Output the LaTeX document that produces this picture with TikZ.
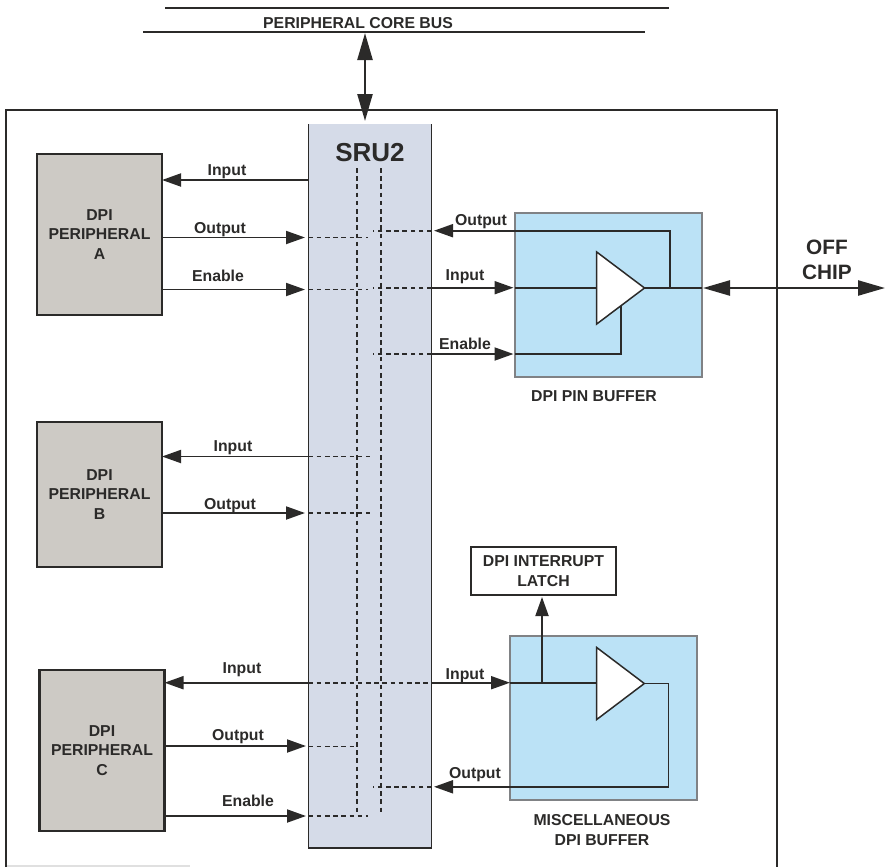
\documentclass[tikz,border=0pt]{standalone}
\usepackage{fontspec}
\setmainfont{Liberation Sans}
\usetikzlibrary{arrows.meta,calc}
\definecolor{ink}{HTML}{2B2A29}
\definecolor{srufill}{HTML}{D5DBE8}
\definecolor{perifill}{HTML}{CDCAC5}
\definecolor{buffill}{HTML}{BBE2F6}
\definecolor{bufedge}{HTML}{808285}
\tikzset{
  every node/.style={inner sep=0pt,outer sep=0pt,text=ink,align=center,font=\fontsize{15.8}{19.5}\selectfont\bfseries},
  peri/.style={draw=ink,line width=2.4pt,fill=perifill,minimum width=125pt,text depth=0pt},
  bufbox/.style={draw=bufedge,line width=2pt,fill=buffill},
  wire/.style={draw=ink,line width=1.9pt},
  dashwire/.style={draw=ink,line width=1.8pt,dash pattern=on 4.6pt off 3.6pt},
  sig/.style={wire,-{Triangle[length=19pt,width=13pt]}},
  bigsig/.style={wire,line width=2.4pt,{Triangle[length=27pt,width=15pt]}-{Triangle[length=27pt,width=15pt]}},
  amp/.style={draw=ink,line width=1.5pt,fill=white,line join=miter},
}
\begin{document}
\begin{tikzpicture}[x=1pt,y=-1pt]
\useasboundingbox (0,0) rectangle (885,867);
% chip outline
\coordinate (chipBL) at (6,867);
\coordinate (chipTL) at (6,110);
\coordinate (chipTR) at (777,110);
\coordinate (chipBR) at (777,867);
\draw[draw=black!12,line width=1.2pt] (chipBL |- 0,866) -- (190,866);
\draw[wire,line width=2.4pt] (chipBL) -- (chipTL) -- (chipTR) -- (chipBR);
% bus
\coordinate (busA1) at (165,8); \coordinate (busA2) at (669,8);
\coordinate (busB1) at (143,32); \coordinate (busB2) at (645,32);
\draw[wire] (busA1) -- (busA2);
\draw[wire] (busB1) -- (busB2);
\node (buslabel) at (358,23) {PERIPHERAL CORE BUS};
% SRU2
\node[fill=srufill,minimum width=123pt,minimum height=724pt] (sru) at (370,486) {};
\draw[wire] (sru.north west) -- (sru.south west) -- (sru.south east) -- (sru.north east);
\node[font=\fontsize{26}{30}\selectfont\bfseries] (srulabel) at (370,153) {SRU2};
\coordinate (busend) at (365,33); \coordinate (sruend) at (365,121);
\draw[bigsig] (busend) -- (sruend);
% peripherals
\node[peri,minimum height=161pt] (A) at (99.5,234.5) {DPI\\PERIPHERAL\\A};
\node[peri,minimum height=145pt] (B) at (99.5,494.5) {DPI\\PERIPHERAL\\B};
\node[peri,minimum height=161pt] (C) at (102,750.5) {DPI\\PERIPHERAL\\C};
% buffers
\node[bufbox,minimum width=187pt,minimum height=164pt] (pin) at (608.5,294.5) {};
\node[bufbox,minimum width=187pt,minimum height=164pt] (misc) at (603,718) {};
\node[draw=ink,line width=1.9pt,fill=white,minimum width=145pt,minimum height=48pt] (latch) at (543.5,571) {DPI INTERRUPT\\LATCH};
\node (pinlabel) at (594,396) {DPI PIN BUFFER};
\node (misclabel) at (602,830) {MISCELLANEOUS\\DPI BUFFER};
\node (offchip) at (827,260) [font=\fontsize{20.8}{24.4}\selectfont\bfseries] {OFF\\CHIP};
% vertical crossbar lines
\draw[dashwire] (356.7,168) coordinate (v1t) -- (356.7,813) coordinate (v1b);
\draw[dashwire] (381.3,168) coordinate (v2t) -- (381.3,813) coordinate (v2b);
% peripheral A
\draw[sig] (sru.west |- 0,180) -- (A.east |- 0,180);
\draw[sig] (A.east |- 0,237.5) -- (305,237.5);
\draw[sig] (A.east |- 0,289.5) -- (305,289.5);
\draw[dashwire] (sru.west |- 0,237.5) -- (368,237.5);
\draw[dashwire] (sru.west |- 0,289.5) -- (368,289.5);
% pin buffer
\coordinate (t1a) at (596.7,252); \coordinate (t1b) at (596.7,324); \coordinate (t1c) at (644.5,288);
\draw[wire] (pin.west |- 0,287.7) -- (t1a |- 0,287.7);
\draw[wire] (pin.west |- 0,354) -- (620.8,354) -- (620.8,300);
\draw[wire] (t1c) -- (670,288) -- (670,230.7) -- (pin.west |- 0,230.7);
\draw[amp] (t1a) -- (t1b) -- (t1c) -- cycle;
\draw[sig] (pin.west |- 0,230.7) -- (434,230.7);
\draw[sig] (sru.east |- 0,287.7) -- (513.5,287.7);
\draw[sig] (sru.east |- 0,354) -- (513.5,354);
\draw[dashwire] (sru.east |- 0,230.7) -- (373,230.7);
\draw[dashwire] (sru.east |- 0,287.7) -- (373,287.7);
\draw[dashwire] (sru.east |- 0,354) -- (373,354);
\coordinate (offend) at (885,288);
\draw[wire,line width=2.4pt] (t1c) -- (pin.east |- t1c);
\draw[bigsig] (703,288) -- (offend);
% peripheral B
\draw[sig] (sru.west |- 0,456.5) -- (B.east |- 0,456.5);
\draw[sig] (B.east |- 0,513) -- (305,513);
\draw[dashwire] (sru.west |- 0,456.5) -- (370,456.5);
\draw[dashwire] (sru.west |- 0,513) -- (370,513);
% peripheral C and misc buffer
\coordinate (t2a) at (596.7,647.5); \coordinate (t2b) at (596.7,719.5); \coordinate (t2c) at (644.3,683.5);
\draw[wire] (misc.west |- 0,682.7) -- (t2a |- 0,682.7);
\draw[wire] (t2c) -- (668.5,683.5) -- (668.5,786.8) -- (misc.west |- 0,786.8);
\draw[amp] (t2a) -- (t2b) -- (t2c) -- cycle;
\draw[wire,-{Triangle[length=19pt,width=13pt]}] (542,682.7) -- (542,597);
\draw[sig] (sru.west |- 0,682.7) -- (C.east |- 0,682.7);
\draw[sig] (sru.east |- 0,682.7) -- (510,682.7);
\draw[dashwire] (sru.west |- 0,682.7) -- (sru.east |- 0,682.7);
\draw[sig] (C.east |- 0,746) -- (306,746);
\draw[dashwire] (sru.west |- 0,746.5) -- (357,746.5);
\draw[sig] (C.east |- 0,816) -- (306,816);
\draw[dashwire] (sru.west |- 0,816) -- (368,816);
\draw[sig] (misc.west |- 0,786.8) -- (434,786.8);
\draw[dashwire] (sru.east |- 0,786.8) -- (373,786.8);
% signal labels
\node (l1) at (227,172) {Input};
\node (l2) at (220,230) {Output};
\node (l3) at (218,276) {Enable};
\node (l4) at (481,222) {Output};
\node (l5) at (465,277) {Input};
\node (l6) at (465,344) {Enable};
\node (l7) at (233,448) {Input};
\node (l8) at (230,506) {Output};
\node (l9) at (242,670) {Input};
\node (l10) at (465,676) {Input};
\node (l11) at (238,737) {Output};
\node (l12) at (475,775) {Output};
\node (l13) at (248,801) {Enable};
\end{tikzpicture}
\end{document}
